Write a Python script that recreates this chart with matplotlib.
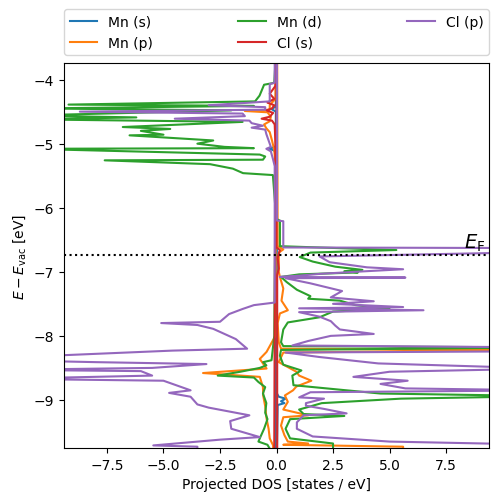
import matplotlib
matplotlib.use("Agg")
import matplotlib.pyplot as plt
import numpy as np

# projected DOS, (energy [eV], states/eV); spin down drawn negative
mn_s_up = [(-3.74, 0.01), (-8.90, 0.02), (-8.95, 0.1), (-8.98, 0.4), (-9.02, 0.2),
           (-9.05, 0.35), (-9.08, 0.05), (-9.76, 0.02)]
mn_s_dn = [(-3.74, -0.02), (-4.42, -0.03), (-4.46, -0.22), (-4.50, -0.03), (-5.04, -0.03),
           (-5.08, -0.3), (-5.12, -0.03), (-9.76, -0.03)]

mn_p_up = [(-3.74, 0.03), (-6.60, 0.05), (-6.65, 0.3), (-6.70, 0.1), (-7.00, 0.1),
           (-7.08, 0.15), (-7.26, 0.3), (-7.45, 0.22), (-7.60, 0.5), (-7.65, 0.15),
           (-7.80, 0.05), (-8.10, 0.1), (-8.20, 0.2), (-8.22, 12.0), (-8.26, 0.3),
           (-8.41, 0.1), (-8.56, 0.88), (-8.62, 1.0), (-8.70, 1.54), (-8.79, 0.88),
           (-8.85, 0.73), (-8.93, 0.37), (-9.03, 0.5), (-9.15, 0.3), (-9.24, 1.4),
           (-9.27, 0.3), (-9.40, 0.2), (-9.55, 0.35), (-9.65, 0.5), (-9.68, 1.4),
           (-9.70, 0.3), (-9.73, 5.6), (-9.76, 5.6)]
mn_p_dn = [(-3.74, -0.03), (-4.30, -0.05), (-4.40, -0.3), (-4.47, -0.3), (-4.49, -1.4),
           (-4.51, -0.4), (-4.58, -0.25), (-4.65, -0.3), (-4.70, -0.55), (-4.76, -0.45),
           (-4.82, -0.3), (-4.95, -0.2), (-5.10, -0.1), (-5.40, -0.03), (-8.00, -0.05),
           (-8.25, -0.44), (-8.36, -0.74), (-8.51, -0.44), (-8.58, -3.25), (-8.64, -0.74),
           (-8.80, -0.6), (-8.93, -0.59), (-9.10, -0.5), (-9.29, -0.44), (-9.45, -0.35),
           (-9.60, -0.3), (-9.71, -0.15), (-9.76, -0.15)]

mn_d_up = [(-3.74, 0.02), (-6.18, 0.02), (-6.20, 0.15), (-6.60, 0.15), (-6.66, 5.3),
           (-6.70, 1.5), (-6.77, 1.03), (-6.84, 1.6), (-6.92, 2.6), (-6.97, 3.8),
           (-6.99, 3.0), (-7.01, 3.6), (-7.04, 1.0), (-7.08, 0.2), (-7.16, 0.45),
           (-7.28, 0.9), (-7.38, 1.5), (-7.42, 1.4), (-7.45, 2.8), (-7.52, 3.5),
           (-7.58, 5.0), (-7.62, 2.5), (-7.71, 1.9), (-7.79, 0.5), (-7.90, 0.3),
           (-8.10, 0.2), (-8.16, 0.3), (-8.18, 12.0), (-8.22, 0.2), (-8.31, 0.15),
           (-8.45, 0.3), (-8.54, 1.1), (-8.62, 0.7), (-8.77, 0.75), (-8.85, 3.1),
           (-8.90, 4.6), (-8.94, 12.0), (-8.98, 5.5), (-9.05, 2.0), (-9.15, 1.0),
           (-9.22, 1.2), (-9.25, 3.0), (-9.30, 0.6), (-9.45, 0.4), (-9.60, 0.6),
           (-9.68, 2.5), (-9.76, 2.5)]
mn_d_dn = [(-3.74, -0.05), (-4.05, -0.1), (-4.08, -0.55), (-4.25, -0.75), (-4.34, -0.95),
           (-4.39, -9.2), (-4.41, -1.0), (-4.45, -10.5), (-4.48, -2.0), (-4.56, -11.0),
           (-4.59, -6.2), (-4.62, -11.0), (-4.66, -1.5), (-4.74, -6.8), (-4.77, -4.7),
           (-4.80, -6.0), (-4.86, -5.0), (-4.87, -6.5), (-4.95, -2.8), (-5.00, -3.5),
           (-5.05, -2.3), (-5.07, -1.0), (-5.08, -11.0), (-5.17, -0.74), (-5.20, -0.5),
           (-5.25, -0.6), (-5.26, -7.6), (-5.32, -2.94), (-5.39, -1.93), (-5.46, -1.48),
           (-5.49, -0.16), (-6.00, -0.05), (-8.00, -0.1), (-8.38, -0.22), (-8.41, -0.59),
           (-8.46, -0.45), (-8.50, -0.74), (-8.56, -1.6), (-8.62, -2.6), (-8.65, -1.0),
           (-8.72, -0.8), (-8.80, -0.5), (-8.90, -0.6), (-9.05, -0.45), (-9.20, -0.5),
           (-9.30, -0.4), (-9.45, -0.55), (-9.60, -0.74), (-9.65, -0.8), (-9.70, -0.4),
           (-9.76, -0.3)]

cl_s_up = [(-3.74, 0.0), (-6.62, 0.0), (-6.66, 0.15), (-6.72, 0.1), (-6.78, 0.05),
           (-6.95, 0.1), (-7.05, 0.03), (-9.76, 0.03)]
cl_s_dn = [(-3.74, -0.05), (-4.10, -0.05), (-4.22, -0.3), (-4.30, -0.1), (-4.36, -0.4),
           (-4.40, -0.1), (-4.45, -0.2), (-4.48, -0.45), (-4.52, -0.15), (-4.58, -0.3),
           (-4.61, -0.66), (-4.64, -0.2), (-4.70, -0.08), (-5.00, -0.05), (-9.76, -0.1)]

cl_p_up = [(-3.74, 0.02), (-6.20, 0.02), (-6.21, 0.3), (-6.62, 0.3), (-6.63, 12.0),
           (-6.69, 12.0), (-6.76, 1.9), (-6.85, 2.35), (-6.93, 4.0), (-6.96, 5.6),
           (-6.99, 4.0), (-7.03, 2.0), (-7.06, 1.0), (-7.08, 0.15), (-7.09, 5.7),
           (-7.10, 0.4), (-7.18, 1.5), (-7.30, 2.9), (-7.40, 2.4), (-7.46, 4.3),
           (-7.50, 2.5), (-7.55, 5.6), (-7.57, 1.0), (-7.60, 6.5), (-7.63, 1.0),
           (-7.70, 1.9), (-7.77, 2.4), (-7.84, 2.6), (-7.90, 2.8), (-7.97, 4.3),
           (-8.00, 2.4), (-8.08, 1.4), (-8.15, 0.7), (-8.18, 12.0), (-8.24, 12.0),
           (-8.26, 0.4), (-8.33, 1.9), (-8.43, 4.5), (-8.51, 12.0), (-8.56, 5.0),
           (-8.64, 3.4), (-8.70, 5.8), (-8.75, 4.6), (-8.82, 5.7), (-8.85, 12.0),
           (-8.88, 1.5), (-8.96, 1.0), (-8.98, 2.1), (-9.05, 1.3), (-9.09, 1.3),
           (-9.14, 2.1), (-9.21, 3.1), (-9.24, 1.2), (-9.35, 0.9), (-9.45, 0.9),
           (-9.57, 1.6), (-9.65, 5.0), (-9.70, 12.0), (-9.76, 12.0)]
cl_p_dn = [(-3.74, -0.08), (-4.05, -0.08), (-4.07, -0.3), (-4.34, -0.3), (-4.40, -3.0),
           (-4.43, -0.5), (-4.47, -0.5), (-4.50, -8.7), (-4.53, -1.5), (-4.57, -1.4),
           (-4.61, -4.5), (-4.64, -1.2), (-4.68, -1.1), (-4.72, -0.6), (-4.75, -1.1),
           (-4.78, -0.5), (-4.85, -0.45), (-4.95, -0.35), (-5.05, -0.25), (-5.08, -0.45),
           (-5.12, -0.25), (-5.25, -0.15), (-5.35, -0.08), (-7.48, -0.08), (-7.52, -1.0),
           (-7.58, -1.5), (-7.66, -2.1), (-7.78, -2.5), (-7.80, -5.1), (-7.83, -3.5),
           (-7.89, -2.8), (-8.05, -1.8), (-8.20, -1.3), (-8.23, -4.6), (-8.34, -12.0),
           (-8.38, -12.0), (-8.41, -8.0), (-8.44, -3.1), (-8.50, -5.5), (-8.53, -12.0),
           (-8.55, -6.0), (-8.62, -5.5), (-8.67, -12.0), (-8.70, -5.0), (-8.75, -4.6),
           (-8.85, -3.8), (-8.89, -4.75), (-8.95, -3.8), (-9.07, -3.5), (-9.12, -3.0),
           (-9.24, -1.2), (-9.33, -2.05), (-9.45, -2.0), (-9.58, -0.74), (-9.62, -2.5),
           (-9.71, -5.45), (-9.73, -3.5), (-9.76, -3.5)]

labels = ["Mn (s)", "Mn (p)", "Mn (d)", "Cl (s)", "Cl (p)"]
curves = [(mn_s_up, mn_s_dn), (mn_p_up, mn_p_dn), (mn_d_up, mn_d_dn),
          (cl_s_up, cl_s_dn), (cl_p_up, cl_p_dn)]
e_fermi = -6.73

fig = plt.figure(figsize=(4.98, 5.02), dpi=100)
ax = fig.add_axes([0.1285, 0.1056, 0.8535, 0.767])

for i, (lab, (up, dn)) in enumerate(zip(labels, curves)):
    c = "C%d" % i
    e, d = zip(*up)
    ax.plot(d, e, color=c, label=lab)
    e, d = zip(*dn)
    ax.plot(d, e, color=c)

ax.axhline(e_fermi, color="k", ls=":")
ax.text(9.25, e_fermi + 0.02, r"$E_{\rm F}$", ha="right", va="bottom", fontsize=14)

ax.set_xlim(-9.4, 9.4)
ax.set_ylim(-9.75, -3.74)
ax.set_xlabel("Projected DOS [states / eV]")
ax.set_ylabel(r"$E - E_\mathrm{vac}$ [eV]")
ax.legend(bbox_to_anchor=(0, 1.02, 1, 0.102), loc="lower left", ncol=3,
          mode="expand", borderaxespad=0.0)

fig.savefig("out.png", dpi=100)
